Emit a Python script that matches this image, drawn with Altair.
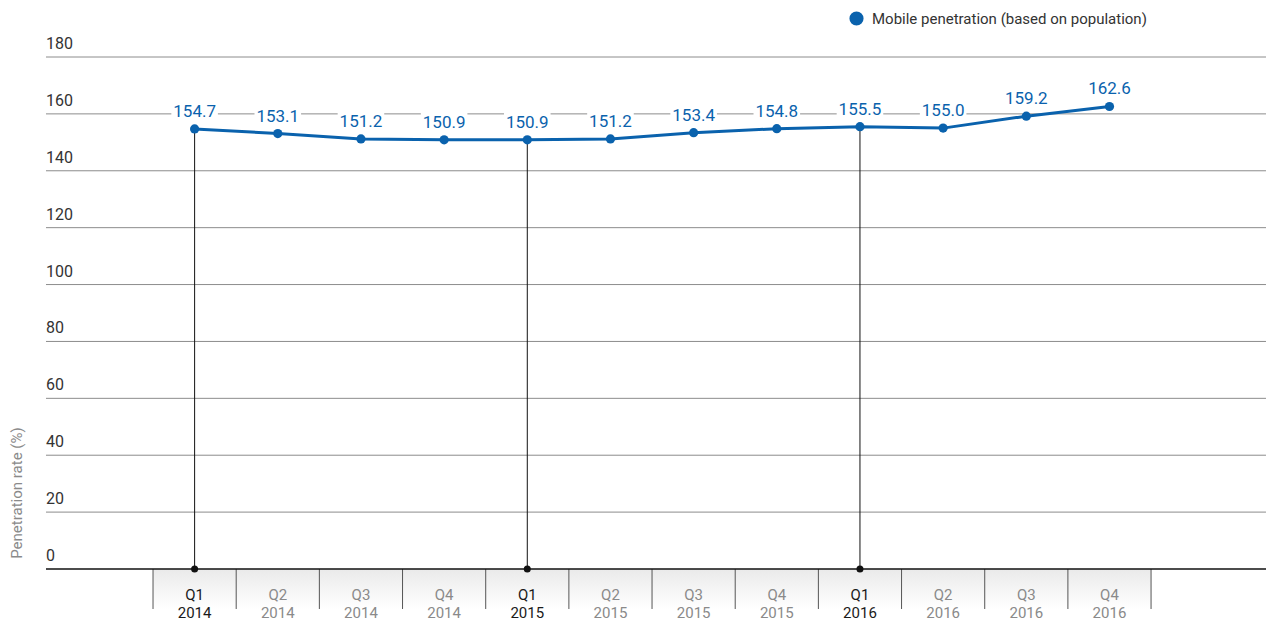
import altair as alt
import pandas as pd

# Quarterly mobile penetration, 2014-2016
quarters = ["Q1", "Q2", "Q3", "Q4"] * 3
years = ["2014"] * 4 + ["2015"] * 4 + ["2016"] * 4
penetration = [154.7, 153.1, 151.2, 150.9, 150.9, 151.2, 153.4, 154.8, 155.5, 155.0, 159.2, 162.6]
y_ticks = [0, 20, 40, 60, 80, 100, 120, 140, 160, 180]
series_name = "Mobile penetration (based on population)"

BLUE = "#0a62ad"
FONT = "Roboto, sans-serif"

W, H = 1266, 625
# scale domains: category index on x, percentage on y (band strip sits below zero)
X_DOM = [-2.340, 12.882]
Y_DOM = [-19.69, 200.04]
LEFT = -1.787  # left edge of the gridlines / tick labels
RIGHT = X_DOM[1]
BAND_BOTTOM = -14.06

xs = alt.Scale(domain=X_DOM, nice=False, zero=False)
ys = alt.Scale(domain=Y_DOM, nice=False, zero=False)


def X(f):
    return alt.X(f, type="quantitative", scale=xs, axis=None)


def X2(f):
    return alt.X2(f)


def Y(f):
    return alt.Y(f, type="quantitative", scale=ys, axis=None)


df = pd.DataFrame({
    "idx": list(range(len(penetration))),
    "quarter": quarters,
    "year": years,
    "value": penetration,
    "series": series_name,
})
df["label"] = df["value"].map(lambda v: f"{v:.1f}")
df["first"] = df["quarter"] == "Q1"
df["lo"] = df["idx"] - 0.5
df["hi"] = df["idx"] + 0.5

grid_df = pd.DataFrame({"tick": y_ticks, "left": LEFT, "right": RIGHT})
grid_df["text"] = grid_df["tick"].astype(str)

base = alt.Chart(df)

# horizontal gridlines
grid = alt.Chart(grid_df).transform_filter("datum.tick > 0").mark_rule(
    color="#8c8c8c", strokeWidth=1
).encode(x=X("left"), x2=X2("right"), y=Y("tick"))

# zero baseline
baseline = alt.Chart(grid_df).transform_filter("datum.tick == 0").mark_rule(
    color="#111111", strokeWidth=1.5
).encode(x=X("left"), x2=X2("right"), y=Y("tick"))

# y tick labels sitting above each gridline
tick_labels = alt.Chart(grid_df).mark_text(
    align="left", baseline="alphabetic", dy=-8, font=FONT, fontSize=16, color="#333333"
).encode(x=X("left"), y=Y("tick"), text="text:N")

# shaded category strip under the baseline
strip = base.transform_calculate(top="0", bottom=str(BAND_BOTTOM)).mark_rect(
    fill={
        "gradient": "linear", "x1": 0, "x2": 0, "y1": 0, "y2": 1,
        "stops": [{"offset": 0, "color": "#eaeaea"}, {"offset": 1, "color": "#ffffff"}],
    },
    stroke=None,
).encode(x=X("lo"), x2=X2("hi"), y=Y("top:Q"), y2=alt.Y2("bottom:Q"))

sep_df = pd.DataFrame({"pos": [i - 0.5 for i in range(len(penetration) + 1)]})
separators = alt.Chart(sep_df).transform_calculate(top="0", bottom=str(BAND_BOTTOM)).mark_rule(
    color="#555555", strokeWidth=1
).encode(x=X("pos"), y=Y("top:Q"), y2=alt.Y2("bottom:Q"))

color_cat = alt.condition("datum.first", alt.value("#1a1a1a"), alt.value("#8a8a8a"))

quarter_text = base.transform_calculate(ypos="-9.14").mark_text(
    font=FONT, fontSize=15, fontWeight="normal", baseline="middle"
).encode(x=X("idx"), y=Y("ypos:Q"), text="quarter:N", color=color_cat)

year_text = base.transform_calculate(ypos="-15.5").mark_text(
    font=FONT, fontSize=15, fontWeight="normal", baseline="middle"
).encode(x=X("idx"), y=Y("ypos:Q"), text="year:N", color=color_cat)

# drop lines from each Q1 point to the baseline
drops = base.transform_filter("datum.first").transform_calculate(zero="0").mark_rule(
    color="#111111", strokeWidth=1
).encode(x=X("idx"), y=Y("value"), y2=alt.Y2("zero:Q"))

drop_dots = base.transform_filter("datum.first").transform_calculate(zero="0").mark_point(
    filled=True, color="#111111", size=49, opacity=1
).encode(x=X("idx"), y=Y("zero:Q"))

# white boxes behind the value labels
label_bg = base.transform_calculate(
    l="datum.idx - 0.28", r="datum.idx + 0.28", b="datum.value + 2.5", t="datum.value + 9.8"
).mark_rect(fill="white", stroke=None).encode(
    x=X("l:Q"), x2=alt.X2("r:Q"), y=Y("b:Q"), y2=alt.Y2("t:Q")
)

line = base.mark_line(color=BLUE, strokeWidth=3).encode(x=X("idx"), y=Y("value"))

points = base.mark_point(filled=True, size=85, opacity=1).encode(
    x=X("idx"),
    y=Y("value"),
    color=alt.Color(
        "series:N",
        scale=alt.Scale(range=[BLUE]),
        legend=alt.Legend(
            title=None, orient="none", legendX=849, legendY=11,
            symbolType="circle", symbolSize=200, symbolStrokeWidth=0,
            labelFont=FONT, labelFontSize=15, labelColor="#333333",
            labelOffset=8, labelLimit=400,
        ),
    ),
)

value_labels = base.mark_text(
    font=FONT, fontSize=17, fontWeight="normal", color=BLUE, baseline="middle", dy=-17
).encode(x=X("idx"), y=Y("value"), text="label:N")

title_df = pd.DataFrame({"x": [-2.135], "y": [26.7], "t": ["Penetration rate (%)"]})
y_title = alt.Chart(title_df).mark_text(
    angle=270, font=FONT, fontSize=15, color="#8a8a8a", baseline="middle", align="center"
).encode(x=X("x"), y=Y("y"), text="t:N")

chart = alt.layer(
    strip, separators, grid, label_bg, baseline, tick_labels, quarter_text, year_text,
    drops, drop_dots, line, points, value_labels, y_title,
).properties(
    width=W, height=H, padding=0, autosize=alt.AutoSizeParams(type="none"),
    background="white",
).configure_view(stroke=None)

chart.save("out.html", embed_options={"renderer": "svg", "actions": False})
